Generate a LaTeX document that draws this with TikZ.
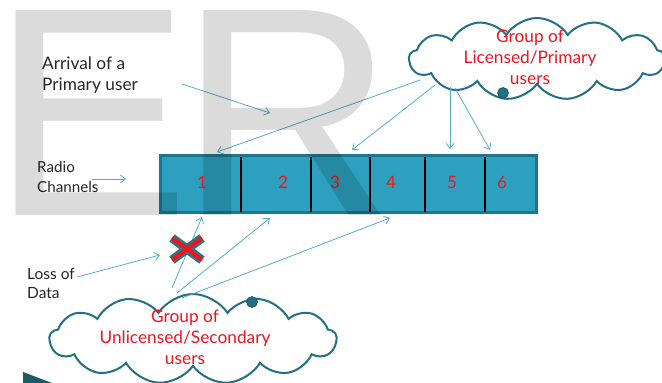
\documentclass[tikz,border=0pt]{standalone}
\usepackage{fontspec}
\setmainfont{Lato}
\newfontfamily\wmfont{Liberation Sans}
\usetikzlibrary{shapes.symbols,arrows.meta}
\definecolor{arrowc}{RGB}{84,174,202}
\definecolor{cloudc}{RGB}{35,112,132}
\definecolor{barfill}{RGB}{44,160,190}
\definecolor{barline}{RGB}{28,118,142}
\definecolor{redtxt}{RGB}{240,20,30}
\begin{document}
\begin{tikzpicture}[x=1pt,y=-1pt,
  conn/.style={draw=arrowc,line width=0.8pt,-{Straight Barb[length=5pt,width=8pt]}},
  cloudbox/.style={cloud,cloud puffs=13,cloud puff arc=115,cloud ignores aspect,draw=cloudc,line width=2pt,fill=white,inner sep=0pt},
  knob/.style={circle,fill=cloudc,draw=cloudc!70!black,line width=0.6pt,minimum size=11pt,inner sep=0pt},
  redlbl/.style={text=redtxt,align=center,inner sep=0pt,font=\fontsize{17.3}{21}\selectfont},
  blklbl/.style={text=black!85,align=left,inner sep=0pt,anchor=west},
  num/.style={text=redtxt,inner sep=0pt,font=\fontsize{17}{20}\selectfont},
  divider/.style={draw=black,line width=1.8pt},
  wm/.style={text=black,text opacity=0.14,inner sep=0pt,anchor=base west,font=\wmfont\fontsize{298}{298}\selectfont}
]
\useasboundingbox (0,0) rectangle (662,383);

% clouds
\node[cloudbox,minimum width=256pt,minimum height=82pt] (pc) at (537,59) {};
\node[knob] (pk) at (503,93) {};
\node[cloudbox,minimum width=287pt,minimum height=90pt] (sc) at (193,339) {};
\node[knob] (sk) at (252,302) {};

% bottom-left wedge
\fill[cloudc!80!black] (23,372) -- (23,383) -- (52,383) -- cycle;

% channel bar
\node[draw=barline,fill=barfill,line width=3pt,minimum width=376pt,minimum height=57pt,inner sep=0pt] (bar) at (348.5,183.5) {};
\foreach \x in {241,311,370,425,485}{
  \draw[divider] (\x,157) -- (\x,212);
}
\node[num] (n1) at (202,182) {1};
\node[num] (n2) at (283,182) {2};
\node[num] (n3) at (335,182) {3};
\node[num] (n4) at (391,182) {4};
\node[num] (n5) at (452,182) {5};
\node[num] (n6) at (502,182) {6};

% labels
\node[blklbl,font=\fontsize{17.3}{21}\selectfont] (arr) at (42,75) {Arrival of a\\Primary user};
\node[blklbl,font=\fontsize{15.2}{20}\selectfont] (rc) at (37,177) {Radio\\Channels};
\node[blklbl,font=\fontsize{15.5}{19}\selectfont] (ld) at (27,283) {Loss of\\Data};
\node[redlbl] (pct) at (530,57) {Group of\\Licensed/Primary\\users};
\node[redlbl] (sct) at (185,337) {Group of\\Unlicensed/Secondary\\users};

% connector end points
\coordinate (p1) at (420,80);
\coordinate (p3) at (435,85);
\coordinate (p5) at (450,87);
\coordinate (p6) at (455,88);
\coordinate (e1) at (217,152);
\coordinate (e3) at (352,150);
\coordinate (e5) at (450,149);
\coordinate (e6) at (490,150);
\coordinate (a0) at (182,84);
\coordinate (a1) at (270,113);
\coordinate (r0) at (92,179);
\coordinate (r1) at (126,179);
\coordinate (s1) at (172,288);
\coordinate (s2) at (177,293);
\coordinate (s4) at (182,298);
\coordinate (f1) at (202,217);
\coordinate (f2) at (270,218);
\coordinate (f4) at (390,218);
\coordinate (l0) at (77,277);
\coordinate (l1) at (160,255);

\draw[conn] (p1) -- (e1);
\draw[conn] (p3) -- (e3);
\draw[conn] (p5) -- (e5);
\draw[conn] (p6) -- (e6);
\draw[conn] (a0) -- (a1);
\draw[conn] (r0) -- (r1);
\draw[conn] (s1) -- (f1);
\draw[conn] (s2) -- (f2);
\draw[conn] (s4) -- (f4);
\draw[conn] (l0) -- (l1);

% red cross
\coordinate (x1) at (172,238);
\coordinate (x2) at (202,260);
\coordinate (x3) at (172,260);
\coordinate (x4) at (202,238);
\draw[line width=9pt,draw=cloudc!85!gray] (x1) -- (x2) (x3) -- (x4);
\draw[line width=4pt,draw=redtxt] (x1) -- (x2) (x3) -- (x4);

% watermark
\node[wm] (wmE) at (14,215) {\hspace*{-23pt}E};
\node[wm] (wmR) at (203,215) {\hspace*{-23.4pt}R};
\end{tikzpicture}
\end{document}
